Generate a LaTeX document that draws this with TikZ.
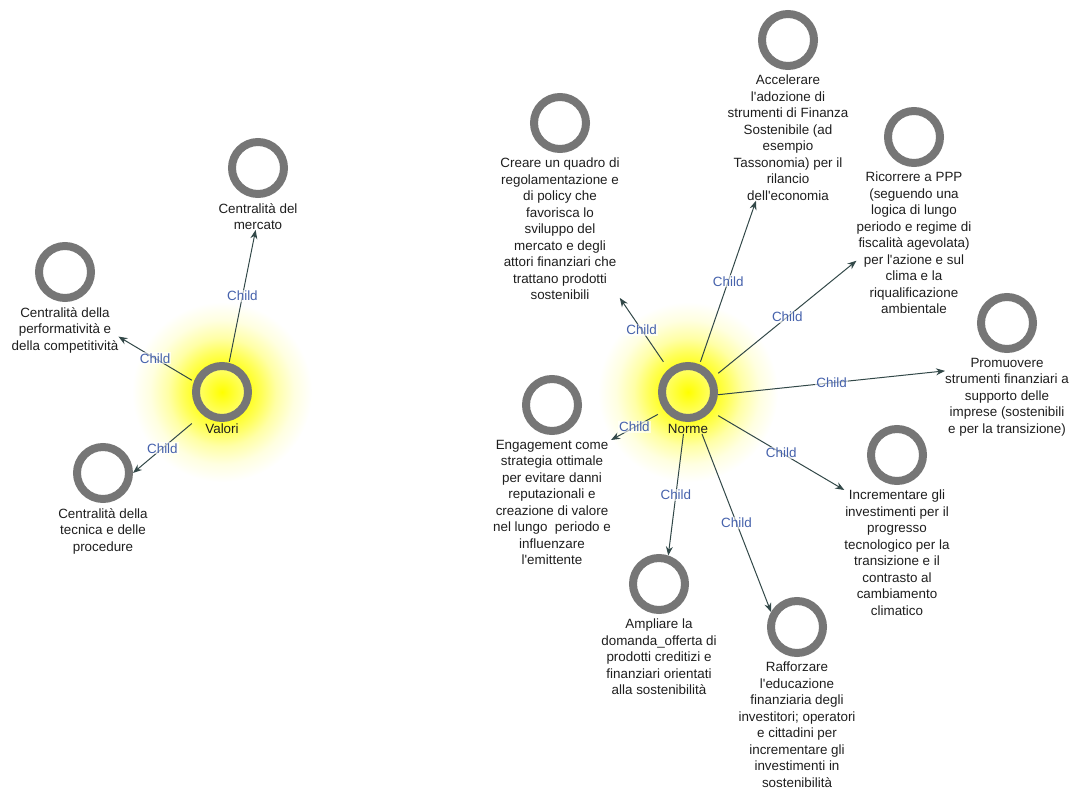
\documentclass[tikz,border=0pt]{standalone}
\usepackage{fontspec}
\setmainfont{Liberation Sans}
\usetikzlibrary{arrows.meta,positioning,fit,backgrounds}
\definecolor{ringgray}{RGB}{118,118,118}
\definecolor{edgecol}{RGB}{50,72,72}
\definecolor{childblue}{RGB}{70,98,172}
\definecolor{txtcol}{RGB}{30,30,30}
\pgfdeclareradialshading{glow}{\pgfpoint{0bp}{0bp}}{color(0bp)=(yellow); color(8bp)=(yellow!85); color(11bp)=(yellow!65); color(15bp)=(yellow!35); color(20bp)=(yellow!12); color(25bp)=(white); color(50bp)=(white)}
\newcommand{\ap}{\textquotesingle}
\begin{document}
\begin{tikzpicture}[x=1pt,y=-1pt,
 ring/.style={circle, draw=ringgray, line width=8pt, minimum size=52pt, inner sep=0pt, outer sep=4pt, fill=white},
 hub/.style={ring, inner color=yellow, outer color=yellow!55},
 txt/.style={align=center, inner sep=0pt, text=txtcol, font=\fontsize{13.4}{16.5}\selectfont},
 arr/.style={draw=edgecol, line width=1pt, -{Stealth[length=9pt,width=7pt]}},
 lab/.style={midway, font=\fontsize{13.4}{16}\selectfont, text=childblue, fill=white, fill opacity=0.6, text opacity=1, inner sep=1pt}]
\useasboundingbox (0,0) rectangle (1071,789);

% hubs
\node[hub] (cVal) at (222,392) {};
\node[txt, below=2pt of cVal] (lVal) {Valori};
\node[fit=(cVal)(lVal), inner sep=0pt] (vbox) {};
\node[hub] (cNor) at (688,392) {};
\node[txt, below=2pt of cNor] (lNor) {Norme};
\node[fit=(cNor)(lNor), inner sep=0pt] (nbox) {};

% Valori children
\node[ring] (cMerc) at (258,168) {};
\node[txt, below=5pt of cMerc] (tMerc) {Centralità del\\mercato};
\node[ring] (cPerf) at (65,272) {};
\node[txt, below=5pt of cPerf] (tPerf) {Centralità della\\performatività e\\della competitività};
\node[ring] (cTec) at (103,473) {};
\node[txt, below=5pt of cTec] (tTec) {Centralità della\\tecnica e delle\\procedure};

% Norme children
\node[ring] (cCre) at (560,123) {};
\node[txt, below=5pt of cCre] (tCre) {Creare un quadro di\\regolamentazione e\\di policy che\\favorisca lo\\sviluppo del\\mercato e degli\\attori finanziari che\\trattano prodotti\\sostenibili};
\node[ring] (cAcc) at (788,40) {};
\node[txt, below=5pt of cAcc] (tAcc) {Accelerare\\l\ap adozione di\\strumenti di Finanza\\Sostenibile (ad\\esempio\\Tassonomia) per il\\rilancio\\dell\ap economia};
\node[ring] (cRic) at (914,137) {};
\node[txt, below=5pt of cRic] (tRic) {Ricorrere a PPP\\(seguendo una\\logica di lungo\\periodo e regime di\\fiscalità agevolata)\\per l\ap azione e sul\\clima e la\\riqualificazione\\ambientale};
\node[ring] (cPro) at (1007,323) {};
\node[txt, below=5pt of cPro] (tPro) {Promuovere\\strumenti finanziari a\\supporto delle\\imprese (sostenibili\\e per la transizione)};
\node[ring] (cInc) at (897,455) {};
\node[txt, below=5pt of cInc] (tInc) {Incrementare gli\\investimenti per il\\progresso\\tecnologico per la\\transizione e il\\contrasto al\\cambiamento\\climatico};
\node[ring] (cEng) at (552,405) {};
\node[txt, below=5pt of cEng] (tEng) {Engagement come\\strategia ottimale\\per evitare danni\\reputazionali e\\creazione di valore\\nel lungo\ \ periodo e\\influenzare\\l\ap emittente};
\node[ring] (cAmp) at (659,584) {};
\node[txt, below=5pt of cAmp] (tAmp) {Ampliare la\\domanda\_offerta di\\prodotti creditizi e\\finanziari orientati\\alla sostenibilità};
\node[ring] (cRaf) at (797,627) {};
\node[txt, below=5pt of cRaf] (tRaf) {Rafforzare\\l\ap educazione\\finanziaria degli\\investitori; operatori\\e cittadini per\\incrementare gli\\investimenti in\\sostenibilità};

% connectors
\draw[arr] (vbox) -- (tMerc.260) node[lab] {Child};
\draw[arr] (vbox) -- (tPerf.353) node[lab] {Child};
\draw[arr] (vbox) -- (cTec.east) node[lab] {Child};
\draw[arr] (nbox) -- (tCre.311) node[lab] {Child};
\draw[arr] (nbox) -- (tAcc.243) node[lab] {Child};
\draw[arr] (nbox) -- (tRic.197) node[lab] {Child};
\draw[arr] (nbox) -- (tPro.157) node[lab] {Child};
\draw[arr] (nbox) -- (tInc.north west) node[lab] {Child};
\draw[arr] (nbox) -- (tEng.north east) node[lab] {Child};
\draw[arr] (nbox) -- (cAmp.72) node[lab] {Child};
\draw[arr] (nbox) -- (cRaf.150) node[lab] {Child};

\begin{scope}[on background layer]
\shade[shading=glow] (cVal.center) circle[radius=90];
\shade[shading=glow] (cNor.center) circle[radius=90];
\end{scope}
\end{tikzpicture}
\end{document}
